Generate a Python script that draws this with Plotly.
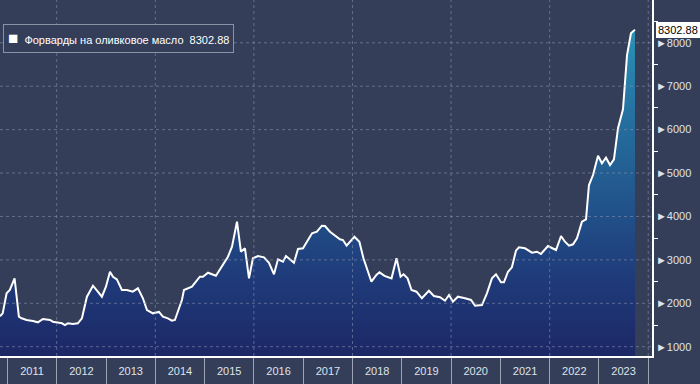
import plotly.graph_objects as go

# ---- data ----
dates = [
    "2010-11-07", "2010-11-27", "2010-12-26", "2011-01-19", "2011-02-23", "2011-03-27",
    "2011-04-16", "2011-05-23", "2011-07-09", "2011-08-15", "2011-09-21", "2011-11-12",
    "2011-12-04", "2012-01-10", "2012-02-09", "2012-03-02", "2012-03-24", "2012-04-30",
    "2012-06-06", "2012-07-06", "2012-08-12", "2012-09-26", "2012-11-02", "2012-12-01",
    "2012-12-31", "2013-01-30", "2013-02-21", "2013-03-22", "2013-04-28", "2013-06-04",
    "2013-07-18", "2013-08-25", "2013-10-01", "2013-10-31", "2013-12-14", "2014-01-28",
    "2014-02-26", "2014-04-04", "2014-05-04", "2014-05-26", "2014-07-17", "2014-08-01",
    "2014-09-29", "2014-11-27", "2014-12-20", "2015-01-26", "2015-03-26", "2015-05-10",
    "2015-06-23", "2015-07-23", "2015-08-29", "2015-09-27", "2015-10-27", "2015-11-26",
    "2015-12-25", "2016-01-31", "2016-03-16", "2016-04-22", "2016-05-29", "2016-06-28",
    "2016-08-04", "2016-08-26", "2016-10-24", "2016-11-23", "2016-12-30", "2017-03-07",
    "2017-04-12", "2017-05-19", "2017-06-11", "2017-07-18", "2017-09-30", "2017-10-22",
    "2017-11-18", "2018-01-15", "2018-02-21", "2018-03-23", "2018-05-21", "2018-06-27",
    "2018-07-20", "2018-08-26", "2018-10-17", "2018-11-23", "2018-12-23", "2019-01-14",
    "2019-02-13", "2019-03-14", "2019-04-20", "2019-05-30", "2019-07-21", "2019-08-27",
    "2019-10-11", "2019-11-17", "2019-12-17", "2020-01-15", "2020-02-21", "2020-04-13",
    "2020-05-28", "2020-06-27", "2020-08-17", "2020-09-23", "2020-10-30", "2020-11-29",
    "2021-01-05", "2021-01-27", "2021-02-26", "2021-03-27", "2021-04-26", "2021-05-18",
    "2021-07-02", "2021-08-23", "2021-09-29", "2021-10-28", "2021-12-19", "2022-02-17",
    "2022-03-26", "2022-04-24", "2022-05-24", "2022-06-23", "2022-07-22", "2022-08-28",
    "2022-09-27", "2022-10-19", "2022-11-18", "2022-12-25", "2023-01-23", "2023-02-22",
    "2023-03-24", "2023-04-22", "2023-05-22", "2023-06-28", "2023-07-28", "2023-08-26",
    "2023-09-25",
]
values = [
    1700, 1769, 2230, 2306, 2575, 1691,
    1654, 1615, 1592, 1562, 1638, 1615,
    1576, 1562, 1539, 1500, 1539, 1523,
    1539, 1654, 2152, 2405, 2267, 2152,
    2382, 2727, 2612, 2552, 2306, 2306,
    2267, 2345, 2115, 1845, 1769, 1800,
    1691, 1654, 1599, 1615, 2076, 2306,
    2382, 2612, 2612, 2704, 2635, 2859,
    3073, 3303, 3879, 3188, 3266, 2575,
    3036, 3089, 3059, 2934, 2667, 3013,
    2958, 3089, 2934, 3250, 3266, 3611,
    3648, 3787, 3780, 3648, 3473, 3457,
    3330, 3533, 3418, 3036, 2497, 2651,
    2713, 2632, 2575, 3036, 2612, 2667,
    2575, 2306, 2267, 2115, 2290, 2168,
    2138, 2059, 2191, 2036, 2152, 2115,
    2076, 1944, 1960, 2230, 2575, 2667,
    2483, 2483, 2727, 2828, 3211, 3289,
    3266, 3165, 3188, 3135, 3319, 3227,
    3550, 3418, 3326, 3358, 3496, 3879,
    3934, 4724, 4954, 5399, 5224, 5353,
    5185, 5316, 6030, 6467, 7718, 8217,
    8302.88,
]
series_name = "Форварды на оливковое масло"
last_value = values[-1]
y_gridlines = [1000, 2000, 3000, 4000, 5000, 6000, 7000, 8000]
x_gridlines = ["2012-01-01", "2014-01-01", "2016-01-01", "2018-01-01",
               "2020-01-01", "2022-01-01", "2024-01-01"]

BG = "#343e59"
TXT = "#dfe3ea"
GRID = "rgba(140,152,180,0.55)"
FONT = "Liberation Sans"

fig = go.Figure()
fig.add_trace(go.Scatter(
    x=dates, y=values, mode="lines", name=series_name,
    line=dict(color="white", width=2),
    fill="tozeroy",
    fillgradient=dict(
        type="vertical", start=786, stop=8400,
        colorscale=[[0, "#1d2766"], [0.25, "#1f3c7b"], [0.5, "#22588e"],
                    [0.75, "#2573a2"], [1, "#2b93b8"]],
    ),
    showlegend=False, hoverinfo="x+y",
))

for g in y_gridlines:
    fig.add_shape(type="line", xref="paper", x0=0, x1=1, yref="y", y0=g, y1=g,
                  line=dict(color=GRID, width=1, dash="dot"), layer="above")
for g in x_gridlines:
    fig.add_shape(type="line", yref="paper", y0=0, y1=1, xref="x", x0=g, x1=g,
                  line=dict(color=GRID, width=1, dash="dot"), layer="above")

# last value tag on the right axis
fig.add_annotation(
    xref="paper", x=1.006, xanchor="left", yref="y", y=last_value, yanchor="middle",
    text=f"{last_value:.2f}", showarrow=False,
    bgcolor="white", bordercolor="white", borderpad=1,
    font=dict(color="black", size=11, family=FONT),
)

# legend box
fig.add_annotation(
    xref="paper", x=0.0046, xanchor="left", yref="paper", y=1 - 24 / 356, yanchor="top",
    text=(f"<span style='font-size:17px'>■</span>\u00a0 {series_name}"
          f" \u00a0{last_value:.2f}"),
    showarrow=False, align="left",
    bgcolor=BG, bordercolor="#8a92a6", borderwidth=1, borderpad=4,
    font=dict(color="white", size=11, family=FONT),
)

fig.update_layout(
    width=700, height=384,
    margin=dict(l=0, r=48, t=0, b=28),
    paper_bgcolor=BG, plot_bgcolor=BG,
    font=dict(family=FONT, size=11, color=TXT),
    showlegend=False,
    xaxis=dict(
        type="date", range=["2010-11-07", "2024-01-29"],
        showgrid=False, zeroline=False,
        showline=True, linecolor="white", linewidth=1.5,
        ticks="outside", ticklen=28, tickcolor="#9ba2b3", tickwidth=1,
        dtick="M12", tick0="2011-01-01", tickformat="%Y",
        ticklabelmode="period", ticklabelstandoff=-24,
        tickfont=dict(color=TXT, size=11),
        automargin=False,
    ),
    yaxis=dict(
        range=[786, 8985], side="right",
        showgrid=False, zeroline=False,
        showline=True, linecolor="white", linewidth=1.5,
        dtick=1000, tick0=0, ticks="",
        tickprefix="►", showtickprefix="all",
        tickfont=dict(color=TXT, size=11),
        minor=dict(dtick=500, tick0=0, ticks="outside", ticklen=4, tickcolor="white"),
        automargin=False,
    ),
)

fig.write_html("out.html", config={"displayModeBar": False},
               post_script="document.body.style.margin='0px';")
